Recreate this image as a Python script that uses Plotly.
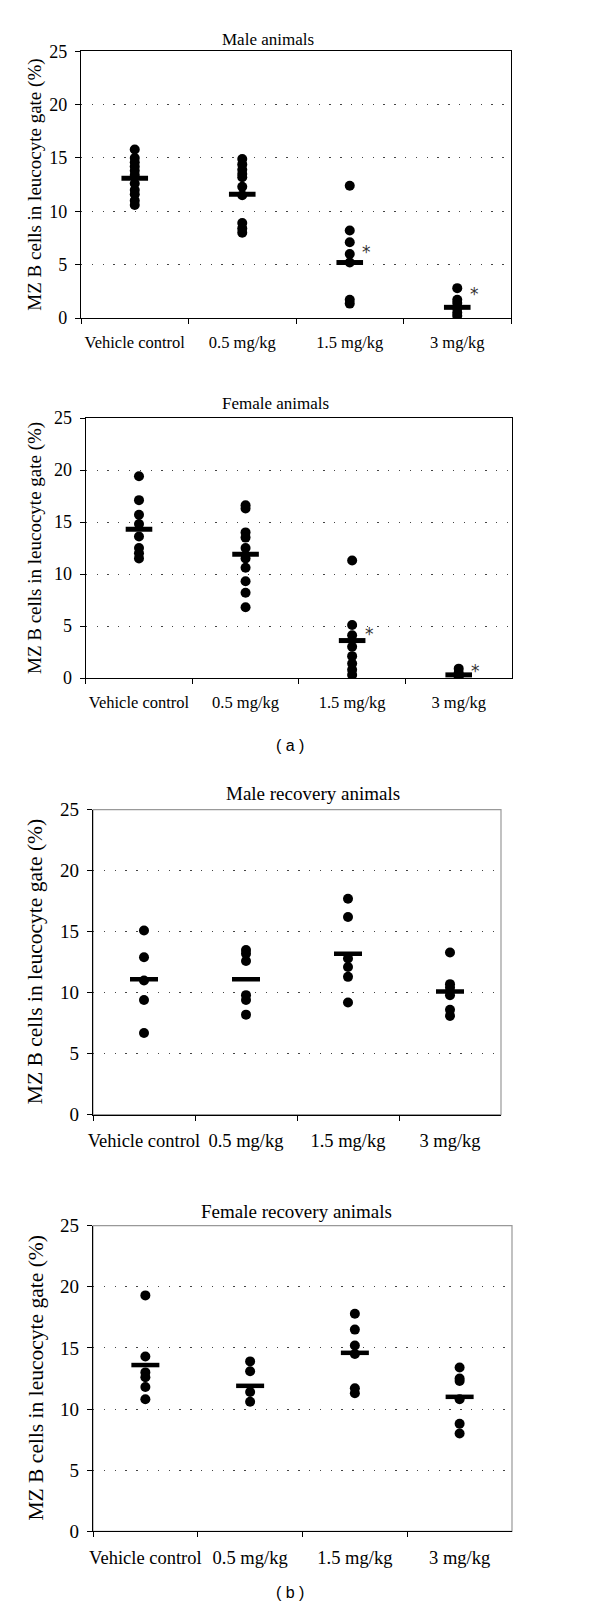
import plotly.graph_objects as go

# Categorias e valores (MZ B cells in leucocyte gate, %)
CATEGORIES = ["Vehicle control", "0.5 mg/kg", "1.5 mg/kg", "3 mg/kg"]
Y_TICKS = [0, 5, 10, 15, 20, 25]

# (a) male animals
male_vehicle = [15.8, 15.0, 14.6, 14.2, 13.8, 13.4, 12.6, 12.0, 11.6, 11.0, 10.6]
male_05 = [14.9, 14.4, 13.9, 13.5, 13.2, 12.3, 11.5, 8.9, 8.4, 8.0]
male_15 = [12.4, 8.2, 7.1, 6.0, 5.2, 1.7, 1.35]
male_3 = [2.8, 1.7, 1.4, 0.9, 0.5, 0.2]
male_mean = [13.1, 11.6, 5.2, 1.0]
male_star = [None, None, 6.6, 2.6]

# (a) female animals
female_vehicle = [19.4, 17.1, 15.7, 14.8, 13.6, 12.5, 12.0, 11.5]
female_05 = [16.6, 16.3, 14.0, 13.5, 12.5, 11.5, 10.6, 9.3, 8.2, 6.8]
female_15 = [11.3, 5.1, 4.1, 3.0, 2.1, 1.4, 0.8, 0.3]
female_3 = [0.9, 0.5, 0.1]
female_mean = [14.3, 11.9, 3.6, 0.3]
female_star = [None, None, 4.6, 1.1]

# (b) male recovery animals
male_rec_vehicle = [15.1, 12.9, 11.0, 9.4, 6.7]
male_rec_05 = [13.5, 13.2, 12.6, 9.8, 9.4, 8.2]
male_rec_15 = [17.7, 16.2, 12.8, 12.1, 11.3, 9.2]
male_rec_3 = [13.3, 10.7, 10.4, 9.8, 8.6, 8.1]
male_rec_mean = [11.1, 11.1, 13.2, 10.1]

# (b) female recovery animals
female_rec_vehicle = [19.3, 14.3, 13.0, 12.6, 11.8, 10.8]
female_rec_05 = [13.9, 13.1, 11.4, 10.6]
female_rec_15 = [17.8, 16.5, 15.2, 14.5, 11.7, 11.3]
female_rec_3 = [13.4, 12.5, 12.3, 10.8, 8.8, 8.0]
female_rec_mean = [13.6, 11.9, 14.6, 11.0]

W, H = 600, 1611
SERIF = "Liberation Serif"
Y_TITLE = "MZ B cells in leucocyte gate (%)"


def px_x(p):
    return p / W


def px_y(p):
    return 1 - p / H


def add_panel(fig, n, groups, means, stars, title, box, title_pos, fs, gray_frame):
    """box = (left, right, top, bottom) in pixels; fs = (xtick, ytick, title, ytitle)"""
    xa = "x" if n == 1 else f"x{n}"
    ya = "y" if n == 1 else f"y{n}"
    xs, ys = [], []
    for cat, vals in zip(CATEGORIES, groups):
        xs += [cat] * len(vals)
        ys += vals
    fig.add_trace(go.Scatter(
        x=xs, y=ys, mode="markers", xaxis=xa, yaxis=ya, showlegend=False,
        marker=dict(size=10, color="black"),
    ))
    fig.add_trace(go.Scatter(
        x=CATEGORIES, y=means, mode="markers", xaxis=xa, yaxis=ya, showlegend=False,
        marker=dict(symbol="line-ew", size=19 if n < 3 else 20,
                    line=dict(width=5 if n < 3 else 4.5, color="black")),
    ))
    for cat, s in zip(CATEGORIES, stars):
        if s is not None:
            fig.add_annotation(x=cat, y=s, xref=xa, yref=ya, text="*", showarrow=False,
                               xshift=17, yshift=-4,
                               font=dict(family="DejaVu Sans", size=17, color="#333"))

    left, right, top, bottom = box
    fig.layout["xaxis" if n == 1 else f"xaxis{n}"] = dict(
        domain=[px_x(left), px_x(right)], anchor=ya, type="category",
        categoryorder="array", categoryarray=CATEGORIES, range=[-0.5, 3.5],
        tickson="boundaries", ticks="outside", ticklen=5, tickcolor="black",
        showline=True, linecolor="black", linewidth=1.3, mirror=not gray_frame,
        showgrid=False, ticklabelstandoff=9, tickangle=0, automargin=False,
        tickfont=dict(family=SERIF, size=fs[0], color="black"),
    )
    fig.layout["yaxis" if n == 1 else f"yaxis{n}"] = dict(
        domain=[px_y(bottom), px_y(top)], anchor=xa, range=[0, 25],
        tickvals=Y_TICKS, ticks="outside", ticklen=5, tickcolor="black",
        showline=True, linecolor="black", linewidth=1.3, mirror=not gray_frame,
        showgrid=True, gridcolor="#444", gridwidth=1.2, griddash="1.3px,9.5px",
        zeroline=False, ticklabelstandoff=4, automargin=False,
        tickfont=dict(family=SERIF, size=fs[1], color="black"),
    )
    if gray_frame:
        fig.add_shape(type="rect", xref=f"{xa} domain", yref=f"{ya} domain",
                      x0=0, x1=1, y0=0, y1=1, line=dict(color="#999", width=1.2),
                      layer="below")
    fig.add_annotation(x=px_x(title_pos[0]), y=px_y(title_pos[1]), xref="paper", yref="paper",
                       text=title, showarrow=False, xanchor="center", yanchor="middle",
                       font=dict(family=SERIF, size=fs[2], color="black"))
    fig.add_annotation(x=px_x(27), y=px_y((top + bottom) / 2), xref="paper", yref="paper",
                       text=Y_TITLE, showarrow=False, textangle=-90,
                       xanchor="center", yanchor="middle",
                       font=dict(family=SERIF, size=fs[3], color="black"))


fig = go.Figure()

add_panel(fig, 1, [male_vehicle, male_05, male_15, male_3], male_mean, male_star,
          "Male animals", (73, 503, 43.3, 310), (260, 31), (16.5, 18, 17, 19), False)
add_panel(fig, 2, [female_vehicle, female_05, female_15, female_3], female_mean, female_star,
          "Female animals", (77.7, 504, 410, 670), (267, 395), (16.5, 18, 17, 19), False)
add_panel(fig, 3, [male_rec_vehicle, male_rec_05, male_rec_15, male_rec_3], male_rec_mean,
          [None] * 4, "Male recovery animals", (85, 493, 801.7, 1106.7), (305, 785),
          (18.5, 19, 19, 21.5), True)
add_panel(fig, 4, [female_rec_vehicle, female_rec_05, female_rec_15, female_rec_3],
          female_rec_mean, [None] * 4, "Female recovery animals", (85, 504, 1217.7, 1523.3),
          (288, 1203), (18.5, 19, 19, 21.5), True)

# rotulos (a) e (b)
for label, ypos in [("( a )", 737), ("( b )", 1595)]:
    fig.add_annotation(x=px_x(282), y=px_y(ypos), xref="paper", yref="paper", text=label,
                       showarrow=False, font=dict(family="Liberation Sans", size=16, color="black"))

fig.update_layout(
    width=W, height=H,
    margin=dict(l=0, r=0, t=0, b=0, pad=0, autoexpand=False),
    paper_bgcolor="white", plot_bgcolor="white",
    showlegend=False,
)

fig.write_html("out.html")
